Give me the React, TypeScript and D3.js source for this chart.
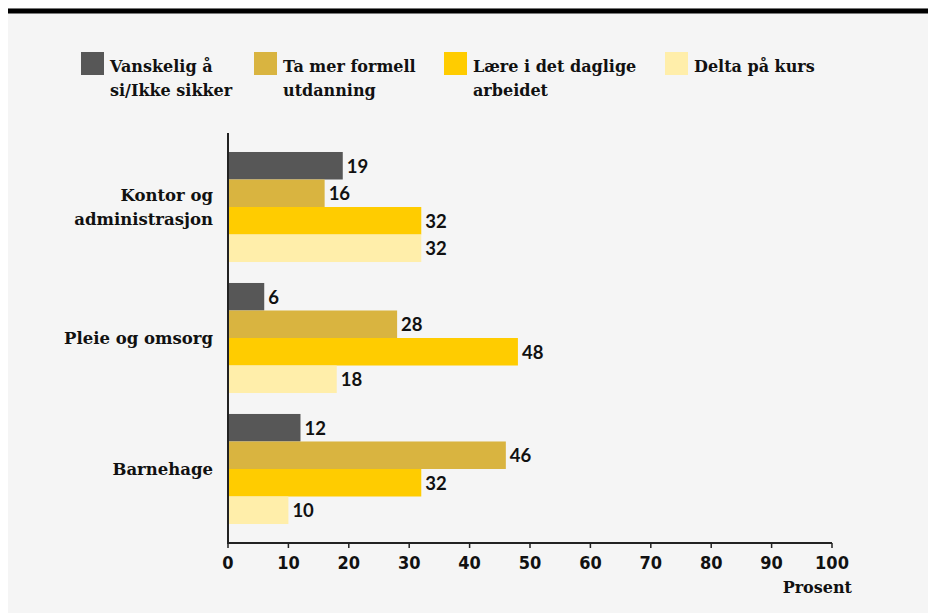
import React from "react";
import * as d3 from "d3";

const categories = ["Kontor og administrasjon", "Pleie og omsorg", "Barnehage"];
const categoryLines = [["Kontor og", "administrasjon"], ["Pleie og omsorg"], ["Barnehage"]];
const seriesNames = ["Vanskelig å si/Ikke sikker", "Ta mer formell utdanning", "Lære i det daglige arbeidet", "Delta på kurs"];
const legendLines = [["Vanskelig å", "si/Ikke sikker"], ["Ta mer formell", "utdanning"], ["Lære i det daglige", "arbeidet"], ["Delta på kurs"]];
const seriesColors = ["#575757", "#d9b440", "#ffcc00", "#ffeeaa"];
const vanskelig = [19, 6, 12];
const formell = [16, 28, 46];
const daglige = [32, 48, 32];
const kurs = [32, 18, 10];
const seriesValues = [vanskelig, formell, daglige, kurs];
const xTicks = [0, 10, 20, 30, 40, 50, 60, 70, 80, 90, 100];
const axisTitle = "Prosent";

const W = 928;
const H = 613;
const left = 228;
const right = 832;
const top = 133;
const bottom = 543;
const legendX = [81, 254, 444, 665];

const serif = "'DejaVu Serif', 'Liberation Serif', serif";
const sans = "Lato, 'Open Sans', sans-serif";

export default function App() {
  const x = d3.scaleLinear().domain([0, 100]).range([left, right]);
  const y = d3.scaleBand<string>().domain(categories).range([top, bottom]).paddingInner(0.16).paddingOuter(0.145);
  const inner = d3.scaleBand<number>().domain([0, 1, 2, 3]).range([0, y.bandwidth()]);

  return (
    <svg width={W} height={H} style={{ position: "fixed", left: 0, top: 0, display: "block" }}>
      <rect x={0} y={0} width={W} height={H} fill="#ffffff" />
      <rect x={8} y={13} width={W - 8} height={H - 13} fill="#f5f5f5" />
      <rect x={8} y={8} width={W - 8} height={1} fill="#777" />
      <rect x={8} y={9} width={W - 8} height={4.5} fill="#000" />

      {legendLines.map((lines, i) => (
        <g key={seriesNames[i]}>
          <rect x={legendX[i]} y={52} width={23} height={23} fill={seriesColors[i]} />
          <text x={legendX[i] + 29} y={72} fontFamily={serif} fontWeight="bold" fontSize={16} fill="#111">
            {lines.map((l, j) => (
              <tspan key={j} x={legendX[i] + 29} dy={j === 0 ? 0 : 24}>{l}</tspan>
            ))}
          </text>
        </g>
      ))}

      {categories.map((c, ci) => {
        const y0 = y(c)!;
        const lines = categoryLines[ci];
        const cy = y0 + y.bandwidth() / 2;
        const start = cy + 6 - ((lines.length - 1) * 24) / 2;
        return (
          <g key={c}>
            <text x={213} y={start} textAnchor="end" fontFamily={serif} fontWeight="bold" fontSize={16.5} fill="#111">
              {lines.map((l, j) => (
                <tspan key={j} x={213} dy={j === 0 ? 0 : 24}>{l}</tspan>
              ))}
            </text>
            {seriesValues.map((vals, si) => {
              const by = y0 + inner(si)!;
              const bh = inner.bandwidth();
              return (
                <g key={si}>
                  <rect x={x(0)} y={by} width={x(vals[ci]) - x(0)} height={bh} fill={seriesColors[si]} />
                  <text x={x(vals[ci]) + 4} y={by + bh / 2 + 7} fontFamily={sans} fontWeight="bold" fontSize={18.5} fill="#111">
                    {vals[ci]}
                  </text>
                </g>
              );
            })}
          </g>
        );
      })}

      <line x1={left} x2={left} y1={top} y2={bottom + 1} stroke="#222" strokeWidth={2} />
      <line x1={left - 1} x2={right} y1={bottom} y2={bottom} stroke="#222" strokeWidth={2} />
      {xTicks.map((t) => (
        <g key={t}>
          <line x1={x(t)} x2={x(t)} y1={bottom} y2={bottom + 5} stroke="#222" strokeWidth={1.5} />
          <text x={x(t)} y={569} textAnchor="middle" fontFamily="'Liberation Sans Narrow', 'DejaVu Sans Condensed', sans-serif" fontWeight="bold" fontSize={18} fill="#111">
            {t}
          </text>
        </g>
      ))}
      <text x={852} y={593} textAnchor="end" fontFamily={serif} fontWeight="bold" fontSize={16} fill="#111">
        {axisTitle}
      </text>
    </svg>
  );
}
